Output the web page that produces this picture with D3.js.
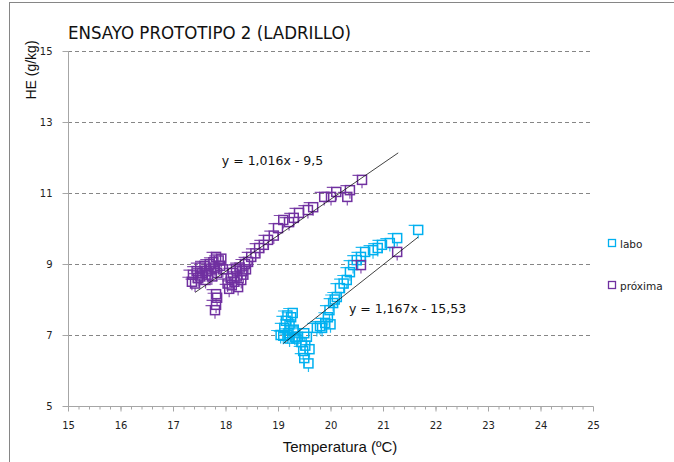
<!DOCTYPE html>
<html><head><meta charset="utf-8">
<script src="https://cdn.jsdelivr.net/npm/d3@7"></script>
<style>
body{margin:0;background:#fff;}
svg{display:block;}
</style></head>
<body><svg id="c" width="674" height="462"></svg>
<script>
const title = "ENSAYO PROTOTIPO 2 (LADRILLO)";
const xTitle = "Temperatura (ºC)";
const yTitle = "HE (g/kg)";
const xTicks = [15,16,17,18,19,20,21,22,23,24,25];
const yTicks = [5,7,9,11,13,15];
const seriesNames = ["labo","próxima"];

// labo (cyan)
const laboX = [19.05,19.1,19.12,19.15,19.18,19.2,19.22,19.25,19.28,19.3,19.32,19.18,19.22,19.3,19.35,19.38,19.45,19.48,19.5,19.52,19.55,19.58,19.5,19.6,
  19.74,19.8,19.84,19.9,19.95,19.98,20.0,20.05,20.08,20.12,20.18,20.25,20.31,20.37,20.43,20.5,20.58,20.66,20.81,20.9,20.98,21.13,21.27,21.67];
const laboY = [7.0,6.98,7.2,7.4,7.55,7.05,7.3,7.5,7.62,7.1,6.95,7.0,6.9,7.15,6.9,6.95,6.8,6.55,6.35,6.7,6.95,6.2,7.05,6.6,
  7.2,7.25,7.2,7.34,7.5,7.7,7.3,7.9,8.0,8.07,8.32,8.45,8.55,8.77,8.97,9.11,9.2,9.34,9.39,9.45,9.54,9.59,9.73,9.96];
// próxima (purple)
const proxX = [17.36,17.38,17.42,17.45,17.48,17.52,17.52,17.56,17.6,17.62,17.64,17.67,17.7,17.72,17.74,17.77,17.8,17.82,17.84,17.87,17.9,17.92,17.95,
  17.8,17.82,17.84,17.82,
  18.04,18.07,18.1,18.12,18.14,18.17,18.2,18.22,18.24,18.27,18.3,18.32,18.34,18.37,18.39,
  18.43,18.49,18.57,18.64,18.73,18.81,18.92,19.0,19.1,19.21,19.3,19.4,19.57,19.67,19.88,20.01,20.11,20.32,20.37,20.6,20.58,21.27];
const proxY = [8.5,8.7,8.45,8.8,8.6,8.9,8.65,8.75,8.95,8.55,8.8,8.7,9.0,8.85,8.65,9.05,8.9,9.2,8.75,9.1,8.95,9.15,8.85,
  7.7,7.85,8.05,8.15,
  8.45,8.3,8.6,8.4,8.75,8.5,8.85,8.65,8.35,8.9,8.55,8.8,8.7,9.0,8.85,
  9.06,9.2,9.3,9.45,9.54,9.68,9.8,10.01,10.24,10.18,10.3,10.44,10.52,10.6,10.89,10.89,11.03,10.89,11.08,11.37,8.97,9.34];

const trends = [
  {slope:1.167, icpt:-15.53, x0:19.1, x1:21.67, label:"y = 1,167x - 15,53", lx:20.35, ly:7.62},
  {slope:1.016, icpt:-9.5, x0:17.42, x1:21.29, label:"y = 1,016x - 9,5", lx:17.93, ly:11.8}
];
const colors = ["#00b0f0","#7030a0"];

const svg = d3.select("#c");
// outer border
svg.append("rect").attr("x",9.5).attr("y",2.5).attr("width",700).attr("height",500)
  .attr("fill","none").attr("stroke","#868686").attr("stroke-width",1);

const x = d3.scaleLinear().domain([15,25]).range([68,593]);
const y = d3.scaleLinear().domain([5,15]).range([406,51]);

// gridlines
svg.append("g").selectAll("line").data(yTicks.filter(d=>d>5)).join("line")
  .attr("x1",68).attr("x2",593).attr("y1",d=>Math.round(y(d))+0.5).attr("y2",d=>Math.round(y(d))+0.5)
  .attr("stroke","#868686").attr("stroke-width",1).attr("stroke-dasharray","4,3");

// x axis
const xMinor = d3.range(15,25.001,0.2);
svg.append("g").attr("transform",`translate(0,${Math.round(y(5))+0.5})`)
  .call(d3.axisBottom(x).tickValues(xMinor).tickSize(3).tickFormat(""))
  .call(g=>g.select(".domain").remove())
  .call(g=>g.selectAll("line").attr("stroke","#a6a6a6"));
svg.append("g").attr("transform",`translate(0,${Math.round(y(5))+0.5})`)
  .call(d3.axisBottom(x).tickValues(xTicks).tickSize(5).tickPadding(10).tickFormat(d3.format("d")))
  .call(g=>g.select(".domain").attr("stroke","#a6a6a6").attr("d",`M68,0H593`))
  .call(g=>g.selectAll("line").attr("stroke","#a6a6a6"))
  .call(g=>g.selectAll("text").attr("font-family","DejaVu Sans").attr("font-size",10).attr("fill","#222"));
// y axis
svg.append("g").attr("transform",`translate(${68.5},0)`)
  .call(d3.axisLeft(y).tickValues(yTicks).tickSize(6).tickPadding(10).tickFormat(d3.format("d")))
  .call(g=>g.select(".domain").attr("stroke","#a6a6a6").attr("d",`M0,406V51`))
  .call(g=>g.selectAll("line").attr("stroke","#a6a6a6"))
  .call(g=>g.selectAll("text").attr("font-family","DejaVu Sans").attr("font-size",10).attr("fill","#222"));

// titles
svg.append("text").attr("x",68).attr("y",39).text(title)
  .attr("font-family","Liberation Sans Narrow, DejaVu Sans Condensed, sans-serif").attr("font-size",18.5).attr("fill","#111");
svg.append("text").attr("x",340).attr("y",452).attr("text-anchor","middle").text(xTitle)
  .attr("font-family","Liberation Sans Narrow, sans-serif").attr("font-size",15).attr("fill","#111");
svg.append("text").attr("transform","translate(36,70) rotate(-90)").attr("text-anchor","middle").text(yTitle)
  .attr("font-family","Liberation Sans Narrow, sans-serif").attr("font-size",14).attr("fill","#111");

// points
const series = [
  {xs:laboX, ys:laboY, color:colors[0]},
  {xs:proxX, ys:proxY, color:colors[1]}
];
const sz = 9;
series.forEach((s,si)=>{
  const pts = s.xs.map((v,i)=>({x:v,y:s.ys[i]}));
  const g = svg.append("g");
  g.selectAll("path.eb").data(pts).join("path").attr("class","eb")
    .attr("d",(d,i)=>{const cx=x(d.x), cy=y(d.y); return `M${cx-sz/2-5},${cy-sz/2}H${cx-sz/2}M${cx},${cy+sz/2}V${cy+sz/2+4}`;})
    .attr("stroke",s.color).attr("stroke-width",1.2).attr("fill","none").attr("opacity",0.85);
  g.selectAll("rect").data(pts).join("rect")
    .attr("x",d=>x(d.x)-sz/2).attr("y",d=>y(d.y)-sz/2).attr("width",sz).attr("height",sz)
    .attr("fill","none").attr("stroke",s.color).attr("stroke-width",1.5);
});

// trend lines & labels
trends.forEach(t=>{
  svg.append("line").attr("x1",x(t.x0)).attr("y1",y(t.slope*t.x0+t.icpt))
    .attr("x2",x(t.x1)).attr("y2",y(t.slope*t.x1+t.icpt))
    .attr("stroke","#111").attr("stroke-width",0.8);
  svg.append("text").attr("x",x(t.lx)).attr("y",y(t.ly)).text(t.label)
    .attr("font-family","DejaVu Sans, sans-serif").attr("font-size",12.5).attr("fill","#111");
});

// legend
const lg = svg.append("g");
seriesNames.forEach((n,i)=>{
  const ly = [244,286][i];
  lg.append("rect").attr("x",608.5).attr("y",ly-4.5).attr("width",7).attr("height",7)
    .attr("fill","none").attr("stroke",colors[i]).attr("stroke-width",1.3);
  lg.append("text").attr("x",620).attr("y",ly+3.5).text(n)
    .attr("font-family","DejaVu Sans, sans-serif").attr("font-size",10.5).attr("fill","#222");
});
</script></body></html>
